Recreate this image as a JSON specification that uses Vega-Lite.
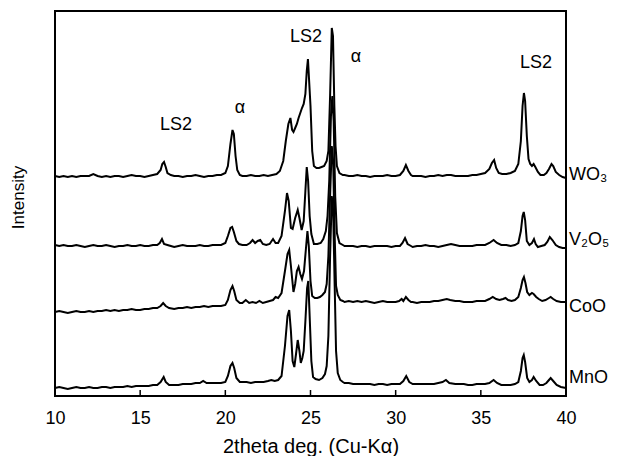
{
  "$schema": "https://vega.github.io/schema/vega-lite/v6.json",
  "width": 511,
  "height": 385,
  "autosize": {"type": "none"},
  "padding": {"left": 55, "top": 11, "right": 61, "bottom": 60},
  "config": {
    "view": {"stroke": "black", "strokeWidth": 2},
    "font": "Liberation Sans",
    "axis": {"labelColor": "black", "titleColor": "black", "tickColor": "black", "grid": false, "titleFontWeight": "normal"}
  },
  "datasets": {
    "WO3": [
      {"x":10.0,"y":220},{"x":10.25,"y":219},{"x":10.5,"y":220},{"x":10.75,"y":219},{"x":11.0,"y":220},{"x":11.25,"y":219},{"x":11.5,"y":220},{"x":11.75,"y":220},{"x":12.0,"y":220},{"x":12.25,"y":222},{"x":12.5,"y":220},{"x":12.75,"y":219},{"x":13.0,"y":220},{"x":13.25,"y":219},{"x":13.5,"y":220},{"x":13.75,"y":220},{"x":14.0,"y":219},{"x":14.25,"y":220},{"x":14.5,"y":221},{"x":14.75,"y":220},{"x":15.0,"y":220},{"x":15.25,"y":219},{"x":15.5,"y":220},{"x":15.75,"y":221},{"x":16.0,"y":222},{"x":16.2,"y":226},{"x":16.3,"y":232},{"x":16.4,"y":234},{"x":16.5,"y":229},{"x":16.6,"y":223},{"x":16.8,"y":221},{"x":17.0,"y":220},{"x":17.25,"y":220},{"x":17.5,"y":219},{"x":17.75,"y":220},{"x":18.0,"y":220},{"x":18.25,"y":221},{"x":18.5,"y":220},{"x":18.75,"y":219},{"x":19.0,"y":220},{"x":19.25,"y":220},{"x":19.5,"y":221},{"x":19.75,"y":221},{"x":20.0,"y":223},{"x":20.15,"y":230},{"x":20.3,"y":252},{"x":20.42,"y":266},{"x":20.5,"y":262},{"x":20.6,"y":240},{"x":20.7,"y":226},{"x":20.85,"y":221},{"x":21.0,"y":220},{"x":21.25,"y":220},{"x":21.5,"y":221},{"x":21.75,"y":220},{"x":22.0,"y":220},{"x":22.25,"y":221},{"x":22.5,"y":220},{"x":22.75,"y":221},{"x":23.0,"y":222},{"x":23.2,"y":225},{"x":23.4,"y":235},{"x":23.55,"y":255},{"x":23.7,"y":272},{"x":23.82,"y":278},{"x":23.92,"y":266},{"x":24.0,"y":264},{"x":24.1,"y":268},{"x":24.2,"y":272},{"x":24.3,"y":278},{"x":24.4,"y":283},{"x":24.5,"y":288},{"x":24.6,"y":292},{"x":24.7,"y":302},{"x":24.78,"y":325},{"x":24.85,"y":337},{"x":24.92,"y":315},{"x":25.0,"y":290},{"x":25.1,"y":245},{"x":25.2,"y":230},{"x":25.35,"y":228},{"x":25.5,"y":228},{"x":25.65,"y":229},{"x":25.8,"y":230},{"x":25.95,"y":235},{"x":26.05,"y":245},{"x":26.15,"y":300},{"x":26.25,"y":368},{"x":26.32,"y":360},{"x":26.4,"y":290},{"x":26.47,"y":250},{"x":26.55,"y":230},{"x":26.7,"y":223},{"x":26.9,"y":221},{"x":27.0,"y":221},{"x":27.25,"y":220},{"x":27.5,"y":220},{"x":27.75,"y":221},{"x":28.0,"y":220},{"x":28.25,"y":220},{"x":28.5,"y":219},{"x":28.75,"y":220},{"x":29.0,"y":220},{"x":29.25,"y":220},{"x":29.5,"y":221},{"x":29.75,"y":220},{"x":30.0,"y":220},{"x":30.25,"y":221},{"x":30.45,"y":225},{"x":30.6,"y":231},{"x":30.75,"y":225},{"x":30.9,"y":221},{"x":31.0,"y":220},{"x":31.25,"y":220},{"x":31.5,"y":220},{"x":31.75,"y":219},{"x":32.0,"y":220},{"x":32.25,"y":220},{"x":32.5,"y":221},{"x":32.75,"y":220},{"x":33.0,"y":221},{"x":33.25,"y":221},{"x":33.5,"y":220},{"x":33.75,"y":220},{"x":34.0,"y":220},{"x":34.25,"y":220},{"x":34.5,"y":221},{"x":34.75,"y":221},{"x":35.0,"y":222},{"x":35.25,"y":223},{"x":35.5,"y":227},{"x":35.65,"y":233},{"x":35.78,"y":236},{"x":35.9,"y":228},{"x":36.05,"y":223},{"x":36.25,"y":222},{"x":36.5,"y":222},{"x":36.75,"y":223},{"x":37.0,"y":225},{"x":37.2,"y":232},{"x":37.35,"y":255},{"x":37.45,"y":290},{"x":37.53,"y":303},{"x":37.6,"y":295},{"x":37.7,"y":260},{"x":37.8,"y":237},{"x":37.9,"y":232},{"x":38.0,"y":230},{"x":38.1,"y":232},{"x":38.2,"y":229},{"x":38.35,"y":224},{"x":38.5,"y":221},{"x":38.7,"y":221},{"x":38.85,"y":223},{"x":39.0,"y":227},{"x":39.15,"y":232},{"x":39.25,"y":230},{"x":39.4,"y":224},{"x":39.6,"y":221},{"x":39.8,"y":219},{"x":40.0,"y":218}
    ],
    "V2O5": [
      {"x":10.0,"y":151},{"x":10.25,"y":150},{"x":10.5,"y":151},{"x":10.75,"y":150},{"x":11.0,"y":150},{"x":11.25,"y":151},{"x":11.5,"y":150},{"x":11.75,"y":149},{"x":12.0,"y":150},{"x":12.25,"y":151},{"x":12.5,"y":150},{"x":12.75,"y":150},{"x":13.0,"y":151},{"x":13.25,"y":150},{"x":13.5,"y":149},{"x":13.75,"y":150},{"x":14.0,"y":150},{"x":14.25,"y":151},{"x":14.5,"y":150},{"x":14.75,"y":150},{"x":15.0,"y":151},{"x":15.25,"y":150},{"x":15.5,"y":150},{"x":15.75,"y":151},{"x":16.0,"y":151},{"x":16.15,"y":153},{"x":16.28,"y":157},{"x":16.4,"y":152},{"x":16.6,"y":151},{"x":16.8,"y":150},{"x":17.0,"y":149},{"x":17.25,"y":150},{"x":17.5,"y":151},{"x":17.75,"y":150},{"x":18.0,"y":150},{"x":18.25,"y":150},{"x":18.5,"y":151},{"x":18.75,"y":150},{"x":19.0,"y":150},{"x":19.25,"y":151},{"x":19.5,"y":151},{"x":19.75,"y":151},{"x":20.0,"y":153},{"x":20.15,"y":160},{"x":20.3,"y":168},{"x":20.4,"y":169},{"x":20.5,"y":164},{"x":20.65,"y":155},{"x":20.8,"y":152},{"x":21.0,"y":151},{"x":21.25,"y":151},{"x":21.45,"y":153},{"x":21.6,"y":156},{"x":21.75,"y":153},{"x":21.9,"y":155},{"x":22.05,"y":156},{"x":22.2,"y":152},{"x":22.4,"y":151},{"x":22.6,"y":152},{"x":22.8,"y":157},{"x":22.95,"y":153},{"x":23.1,"y":153},{"x":23.3,"y":160},{"x":23.5,"y":185},{"x":23.62,"y":203},{"x":23.72,"y":195},{"x":23.85,"y":168},{"x":23.95,"y":167},{"x":24.1,"y":178},{"x":24.25,"y":186},{"x":24.35,"y":178},{"x":24.48,"y":166},{"x":24.6,"y":175},{"x":24.7,"y":205},{"x":24.78,"y":229},{"x":24.86,"y":215},{"x":24.95,"y":180},{"x":25.05,"y":162},{"x":25.2,"y":152},{"x":25.4,"y":152},{"x":25.6,"y":153},{"x":25.75,"y":157},{"x":25.9,"y":165},{"x":26.0,"y":180},{"x":26.1,"y":215},{"x":26.2,"y":280},{"x":26.28,"y":300},{"x":26.36,"y":275},{"x":26.45,"y":200},{"x":26.55,"y":163},{"x":26.7,"y":153},{"x":26.9,"y":151},{"x":27.0,"y":150},{"x":27.25,"y":150},{"x":27.5,"y":150},{"x":27.75,"y":149},{"x":28.0,"y":150},{"x":28.25,"y":150},{"x":28.5,"y":149},{"x":28.75,"y":150},{"x":29.0,"y":150},{"x":29.25,"y":150},{"x":29.5,"y":150},{"x":29.75,"y":149},{"x":30.0,"y":150},{"x":30.25,"y":150},{"x":30.4,"y":153},{"x":30.55,"y":158},{"x":30.7,"y":152},{"x":30.9,"y":150},{"x":31.0,"y":149},{"x":31.25,"y":150},{"x":31.5,"y":150},{"x":31.75,"y":151},{"x":32.0,"y":150},{"x":32.25,"y":150},{"x":32.5,"y":149},{"x":32.75,"y":150},{"x":33.0,"y":151},{"x":33.25,"y":152},{"x":33.5,"y":151},{"x":33.75,"y":150},{"x":34.0,"y":150},{"x":34.25,"y":150},{"x":34.5,"y":150},{"x":34.75,"y":151},{"x":35.0,"y":151},{"x":35.25,"y":151},{"x":35.5,"y":153},{"x":35.75,"y":156},{"x":35.95,"y":153},{"x":36.2,"y":151},{"x":36.5,"y":151},{"x":36.75,"y":150},{"x":37.0,"y":151},{"x":37.2,"y":153},{"x":37.35,"y":165},{"x":37.45,"y":180},{"x":37.52,"y":184},{"x":37.6,"y":176},{"x":37.7,"y":155},{"x":37.85,"y":151},{"x":38.0,"y":153},{"x":38.12,"y":157},{"x":38.22,"y":152},{"x":38.35,"y":149},{"x":38.55,"y":150},{"x":38.75,"y":151},{"x":38.9,"y":154},{"x":39.05,"y":159},{"x":39.2,"y":156},{"x":39.4,"y":151},{"x":39.6,"y":149},{"x":39.8,"y":148},{"x":40.0,"y":148}
    ],
    "CoO": [
      {"x":10.0,"y":84},{"x":10.25,"y":85},{"x":10.5,"y":84},{"x":10.75,"y":83},{"x":11.0,"y":84},{"x":11.25,"y":85},{"x":11.5,"y":84},{"x":11.75,"y":84},{"x":12.0,"y":85},{"x":12.25,"y":84},{"x":12.5,"y":85},{"x":12.75,"y":85},{"x":13.0,"y":86},{"x":13.25,"y":85},{"x":13.5,"y":86},{"x":13.75,"y":85},{"x":14.0,"y":86},{"x":14.25,"y":86},{"x":14.5,"y":87},{"x":14.75,"y":86},{"x":15.0,"y":86},{"x":15.25,"y":87},{"x":15.5,"y":87},{"x":15.75,"y":88},{"x":16.0,"y":88},{"x":16.2,"y":90},{"x":16.35,"y":93},{"x":16.5,"y":90},{"x":16.7,"y":88},{"x":17.0,"y":87},{"x":17.25,"y":88},{"x":17.5,"y":88},{"x":17.75,"y":89},{"x":18.0,"y":88},{"x":18.25,"y":89},{"x":18.5,"y":89},{"x":18.75,"y":90},{"x":19.0,"y":89},{"x":19.25,"y":90},{"x":19.5,"y":90},{"x":19.75,"y":90},{"x":20.0,"y":91},{"x":20.15,"y":96},{"x":20.3,"y":106},{"x":20.42,"y":110},{"x":20.52,"y":105},{"x":20.65,"y":96},{"x":20.85,"y":93},{"x":21.0,"y":93},{"x":21.2,"y":96},{"x":21.4,"y":93},{"x":21.6,"y":94},{"x":21.8,"y":93},{"x":22.0,"y":95},{"x":22.2,"y":93},{"x":22.4,"y":94},{"x":22.6,"y":95},{"x":22.8,"y":96},{"x":22.95,"y":99},{"x":23.1,"y":98},{"x":23.3,"y":103},{"x":23.5,"y":125},{"x":23.65,"y":142},{"x":23.75,"y":146},{"x":23.85,"y":130},{"x":24.0,"y":104},{"x":24.1,"y":112},{"x":24.2,"y":125},{"x":24.3,"y":129},{"x":24.4,"y":122},{"x":24.5,"y":117},{"x":24.62,"y":125},{"x":24.72,"y":145},{"x":24.82,"y":165},{"x":24.9,"y":150},{"x":25.0,"y":115},{"x":25.1,"y":100},{"x":25.25,"y":98},{"x":25.4,"y":98},{"x":25.55,"y":99},{"x":25.7,"y":101},{"x":25.85,"y":104},{"x":25.95,"y":112},{"x":26.05,"y":140},{"x":26.15,"y":200},{"x":26.25,"y":250},{"x":26.33,"y":235},{"x":26.42,"y":160},{"x":26.5,"y":110},{"x":26.6,"y":101},{"x":26.75,"y":96},{"x":26.9,"y":95},{"x":27.0,"y":94},{"x":27.25,"y":95},{"x":27.5,"y":94},{"x":27.75,"y":95},{"x":28.0,"y":94},{"x":28.25,"y":95},{"x":28.5,"y":94},{"x":28.75,"y":93},{"x":29.0,"y":94},{"x":29.25,"y":95},{"x":29.5,"y":94},{"x":29.75,"y":94},{"x":30.0,"y":94},{"x":30.2,"y":95},{"x":30.35,"y":97},{"x":30.45,"y":95},{"x":30.6,"y":99},{"x":30.75,"y":96},{"x":30.9,"y":94},{"x":31.0,"y":94},{"x":31.25,"y":93},{"x":31.5,"y":94},{"x":31.75,"y":94},{"x":32.0,"y":94},{"x":32.25,"y":95},{"x":32.5,"y":95},{"x":32.75,"y":96},{"x":33.0,"y":97},{"x":33.2,"y":96},{"x":33.5,"y":95},{"x":33.75,"y":95},{"x":34.0,"y":94},{"x":34.25,"y":94},{"x":34.5,"y":94},{"x":34.75,"y":95},{"x":35.0,"y":95},{"x":35.25,"y":95},{"x":35.5,"y":97},{"x":35.7,"y":99},{"x":35.9,"y":97},{"x":36.1,"y":96},{"x":36.3,"y":97},{"x":36.45,"y":98},{"x":36.6,"y":96},{"x":36.8,"y":95},{"x":37.0,"y":96},{"x":37.2,"y":99},{"x":37.35,"y":108},{"x":37.45,"y":116},{"x":37.53,"y":119},{"x":37.62,"y":113},{"x":37.72,"y":104},{"x":37.85,"y":101},{"x":38.0,"y":103},{"x":38.1,"y":102},{"x":38.25,"y":99},{"x":38.4,"y":97},{"x":38.6,"y":95},{"x":38.8,"y":96},{"x":39.0,"y":98},{"x":39.1,"y":99},{"x":39.25,"y":97},{"x":39.45,"y":95},{"x":39.7,"y":94},{"x":40.0,"y":94}
    ],
    "MnO": [
      {"x":10.0,"y":8},{"x":10.25,"y":9},{"x":10.5,"y":8},{"x":10.75,"y":7},{"x":11.0,"y":8},{"x":11.25,"y":9},{"x":11.5,"y":8},{"x":11.75,"y":8},{"x":12.0,"y":9},{"x":12.25,"y":8},{"x":12.5,"y":8},{"x":12.75,"y":9},{"x":13.0,"y":9},{"x":13.25,"y":8},{"x":13.5,"y":9},{"x":13.75,"y":9},{"x":14.0,"y":9},{"x":14.25,"y":10},{"x":14.5,"y":9},{"x":14.75,"y":10},{"x":15.0,"y":10},{"x":15.25,"y":10},{"x":15.5,"y":10},{"x":15.75,"y":11},{"x":16.0,"y":11},{"x":16.2,"y":14},{"x":16.38,"y":19},{"x":16.5,"y":14},{"x":16.7,"y":11},{"x":17.0,"y":11},{"x":17.25,"y":11},{"x":17.5,"y":12},{"x":17.75,"y":12},{"x":18.0,"y":12},{"x":18.25,"y":13},{"x":18.5,"y":13},{"x":18.7,"y":15},{"x":18.9,"y":13},{"x":19.25,"y":13},{"x":19.5,"y":13},{"x":19.75,"y":13},{"x":20.0,"y":14},{"x":20.15,"y":20},{"x":20.3,"y":30},{"x":20.42,"y":33},{"x":20.52,"y":28},{"x":20.65,"y":18},{"x":20.85,"y":14},{"x":21.0,"y":14},{"x":21.25,"y":14},{"x":21.5,"y":13},{"x":21.75,"y":14},{"x":22.0,"y":14},{"x":22.25,"y":14},{"x":22.5,"y":15},{"x":22.7,"y":16},{"x":22.9,"y":15},{"x":23.1,"y":16},{"x":23.3,"y":20},{"x":23.5,"y":50},{"x":23.65,"y":80},{"x":23.75,"y":86},{"x":23.85,"y":65},{"x":23.95,"y":35},{"x":24.05,"y":29},{"x":24.15,"y":42},{"x":24.25,"y":56},{"x":24.35,"y":45},{"x":24.43,"y":33},{"x":24.52,"y":38},{"x":24.6,"y":45},{"x":24.7,"y":75},{"x":24.8,"y":108},{"x":24.87,"y":115},{"x":24.95,"y":80},{"x":25.05,"y":35},{"x":25.15,"y":19},{"x":25.3,"y":17},{"x":25.5,"y":16},{"x":25.7,"y":18},{"x":25.85,"y":22},{"x":25.95,"y":30},{"x":26.05,"y":60},{"x":26.15,"y":140},{"x":26.25,"y":200},{"x":26.33,"y":185},{"x":26.42,"y":110},{"x":26.5,"y":45},{"x":26.6,"y":23},{"x":26.75,"y":16},{"x":26.9,"y":14},{"x":27.0,"y":13},{"x":27.25,"y":13},{"x":27.5,"y":12},{"x":27.75,"y":12},{"x":28.0,"y":12},{"x":28.25,"y":12},{"x":28.5,"y":12},{"x":28.75,"y":11},{"x":29.0,"y":12},{"x":29.25,"y":12},{"x":29.5,"y":11},{"x":29.75,"y":12},{"x":30.0,"y":12},{"x":30.25,"y":12},{"x":30.45,"y":15},{"x":30.62,"y":20},{"x":30.8,"y":14},{"x":31.0,"y":12},{"x":31.25,"y":12},{"x":31.5,"y":12},{"x":31.75,"y":12},{"x":32.0,"y":12},{"x":32.25,"y":12},{"x":32.5,"y":13},{"x":32.75,"y":14},{"x":32.95,"y":16},{"x":33.15,"y":13},{"x":33.5,"y":12},{"x":33.75,"y":12},{"x":34.0,"y":12},{"x":34.25,"y":11},{"x":34.5,"y":11},{"x":34.75,"y":12},{"x":35.0,"y":12},{"x":35.25,"y":12},{"x":35.5,"y":13},{"x":35.75,"y":16},{"x":35.95,"y":13},{"x":36.2,"y":11},{"x":36.5,"y":11},{"x":36.75,"y":11},{"x":37.0,"y":12},{"x":37.2,"y":14},{"x":37.35,"y":25},{"x":37.45,"y":38},{"x":37.52,"y":41},{"x":37.6,"y":34},{"x":37.72,"y":18},{"x":37.85,"y":14},{"x":38.0,"y":16},{"x":38.1,"y":19},{"x":38.25,"y":15},{"x":38.45,"y":11},{"x":38.65,"y":11},{"x":38.85,"y":13},{"x":39.0,"y":16},{"x":39.1,"y":18},{"x":39.25,"y":15},{"x":39.45,"y":11},{"x":39.7,"y":9},{"x":40.0,"y":8}
    ],
    "ann": [
      {"x":17.1,"y":271,"t":"LS2"},
      {"x":20.86,"y":288,"t":"α"},
      {"x":24.74,"y":359,"t":"LS2"},
      {"x":27.67,"y":339,"t":"α"},
      {"x":38.24,"y":333,"t":"LS2"}
    ],
    "lab": [
      {"x":40,"y":221,"t":"WO₃"},
      {"x":40,"y":156,"t":"V₂O₅"},
      {"x":40,"y":89,"t":"CoO"},
      {"x":40,"y":18,"t":"MnO"}
    ],
    "ticks": [
      {"x":15,"y0":0,"y1":6},{"x":20,"y0":0,"y1":6},{"x":25,"y0":0,"y1":6},{"x":30,"y0":0,"y1":6},{"x":35,"y0":0,"y1":6}
    ]
  },
  "encoding": {
    "x": {"field": "x", "type": "quantitative", "scale": {"domain": [10, 40], "nice": false, "zero": false},
      "axis": {"title": "2theta deg. (Cu-Kα)", "values": [10, 15, 20, 25, 30, 35, 40], "domain": false, "ticks": false, "labelFontSize": 18, "labelPadding": 13, "labelFlush": false, "titleFontSize": 20, "titleY": 50, "titleBaseline": "middle"}},
    "y": {"field": "y", "type": "quantitative", "scale": {"domain": [0, 385], "nice": false, "zero": false},
      "axis": {"title": "Intensity", "labels": false, "ticks": false, "domain": false, "titleFontSize": 17, "titleAngle": -90, "titleX": -37, "titleY": 186, "titleBaseline": "middle", "titleAlign": "center"}}
  },
  "layer": [
    {"data": {"name": "ticks"}, "mark": {"type": "rule", "color": "black", "strokeWidth": 1.5}, "encoding": {"y": {"field": "y0", "type": "quantitative"}, "y2": {"field": "y1"}}},
    {"data": {"name": "WO3"}, "mark": {"type": "line", "color": "black", "strokeWidth": 2}},
    {"data": {"name": "V2O5"}, "mark": {"type": "line", "color": "black", "strokeWidth": 2}},
    {"data": {"name": "CoO"}, "mark": {"type": "line", "color": "black", "strokeWidth": 2}},
    {"data": {"name": "MnO"}, "mark": {"type": "line", "color": "black", "strokeWidth": 2}},
    {"data": {"name": "ann"}, "mark": {"type": "text", "fontSize": 18, "color": "black", "baseline": "middle", "align": "center"}, "encoding": {"text": {"field": "t"}}},
    {"data": {"name": "lab"}, "mark": {"type": "text", "fontSize": 18, "color": "black", "baseline": "middle", "align": "left", "dx": 3}, "encoding": {"text": {"field": "t"}}}
  ]
}
